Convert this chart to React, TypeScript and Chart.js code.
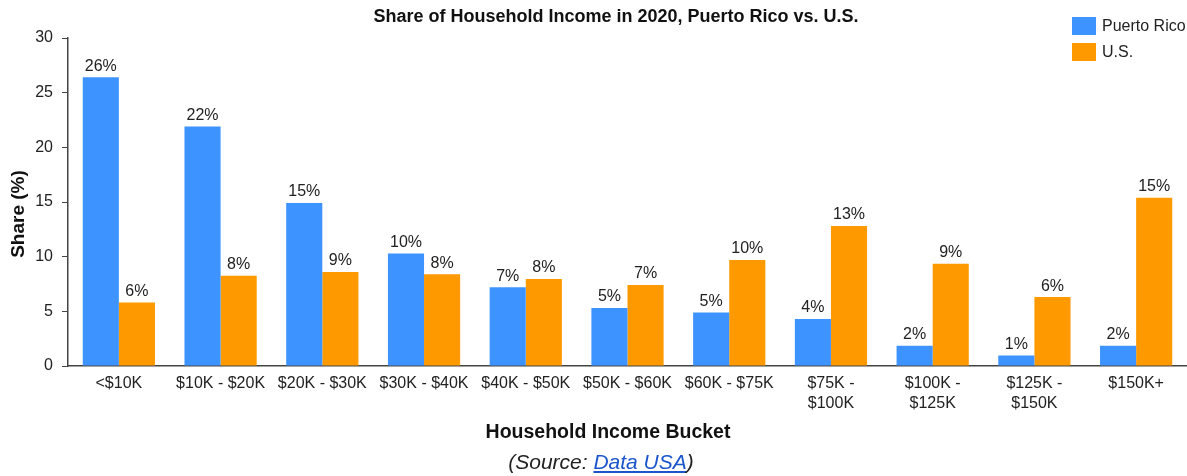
import React, { useEffect, useRef } from "react";
import { Chart, registerables } from "chart.js";

Chart.register(...registerables);

const categories: string[][] = [
  ["<$10K"],
  ["$10K - $20K"],
  ["$20K - $30K"],
  ["$30K - $40K"],
  ["$40K - $50K"],
  ["$50K - $60K"],
  ["$60K - $75K"],
  ["$75K -", "$100K"],
  ["$100K -", "$125K"],
  ["$125K -", "$150K"],
  ["$150K+"],
];

const puertoRico: number[] = [26.4, 21.9, 14.9, 10.3, 7.2, 5.3, 4.9, 4.3, 1.85, 0.95, 1.85];
const us: number[] = [5.8, 8.25, 8.6, 8.4, 7.95, 7.4, 9.7, 12.8, 9.35, 6.3, 15.4];

const yTicks: number[] = [0, 5, 10, 15, 20, 25, 30];

const BLUE = "#3d93ff";
const ORANGE = "#ff9900";
const FONT = "'Liberation Sans', Arial, sans-serif";

const decorPlugin = {
  id: "decor",
  afterDatasetsDraw(chart: any) {
    const ctx = chart.ctx;
    ctx.save();
    // data labels
    ctx.font = `16px ${FONT}`;
    ctx.fillStyle = "#222";
    ctx.textAlign = "center";
    ctx.textBaseline = "bottom";
    chart.data.datasets.forEach((ds: any, di: number) => {
      const meta = chart.getDatasetMeta(di);
      meta.data.forEach((bar: any, i: number) => {
        const v = ds.data[i];
        ctx.fillText(`${Math.round(v)}%`, bar.x, bar.y - 3);
      });
    });
    // title
    ctx.fillStyle = "#111";
    ctx.font = `bold 18px ${FONT}`;
    ctx.textBaseline = "middle";
    ctx.fillText("Share of Household Income in 2020, Puerto Rico vs. U.S.", 616, 17);
    // y axis title
    ctx.save();
    ctx.translate(19, 214);
    ctx.rotate(-Math.PI / 2);
    ctx.font = `bold 19px ${FONT}`;
    ctx.fillText("Share (%)", 0, 0);
    ctx.restore();
    // x axis title
    ctx.font = `bold 19.5px ${FONT}`;
    ctx.fillText("Household Income Bucket", 608, 433);
    // legend
    const items = [
      { label: "Puerto Rico", color: BLUE, y: 17 },
      { label: "U.S.", color: ORANGE, y: 43 },
    ];
    ctx.textAlign = "left";
    ctx.font = `16px ${FONT}`;
    items.forEach((it) => {
      ctx.fillStyle = it.color;
      ctx.fillRect(1072, it.y, 24, 18);
      ctx.fillStyle = "#222";
      ctx.fillText(it.label, 1102, it.y + 9.5);
    });
    ctx.restore();
  },
};

export default function App() {
  const ref = useRef<HTMLCanvasElement | null>(null);

  useEffect(() => {
    if (!ref.current) return;
    const chart = new Chart(ref.current, {
      type: "bar",
      data: {
        labels: categories,
        datasets: [
          { label: "Puerto Rico", data: puertoRico, backgroundColor: BLUE, categoryPercentage: 0.71, barPercentage: 1 },
          { label: "U.S.", data: us, backgroundColor: ORANGE, categoryPercentage: 0.71, barPercentage: 1 },
        ],
      },
      options: {
        responsive: false,
        animation: false,
        layout: { padding: { left: 0, top: 38, right: 0, bottom: 0 } },
        plugins: {
          legend: { display: false },
          title: { display: false },
          tooltip: { enabled: false },
        },
        scales: {
          x: {
            grid: { display: false, drawTicks: false },
            border: { display: true, color: "#444", width: 1.5 },
            ticks: {
              color: "#222",
              font: { family: FONT, size: 16, lineHeight: 1.25 },
              padding: 8,
              maxRotation: 0,
              autoSkip: false,
            },
            afterFit: (s: any) => {
              s.height = 110;
            },
          },
          y: {
            min: 0,
            max: 30,
            afterBuildTicks: (s: any) => {
              s.ticks = yTicks.map((v) => ({ value: v }));
            },
            grid: { drawOnChartArea: false, drawTicks: true, tickLength: 6, color: "#444" },
            border: { display: true, color: "#444", width: 1.5 },
            ticks: {
              color: "#222",
              font: { family: FONT, size: 16 },
              padding: 9,
            },
            afterFit: (s: any) => {
              s.width = 68;
            },
          },
        },
      },
      plugins: [decorPlugin],
    });
    return () => chart.destroy();
  }, []);

  return (
    <div style={{ position: "absolute", left: 0, top: 0, width: 1187, height: 476, background: "#fff" }}>
      <canvas ref={ref} width={1187} height={476} style={{ display: "block" }} />
      <div
        style={{
          position: "absolute",
          left: 301,
          width: 600,
          top: 448,
          textAlign: "center",
          fontFamily: FONT,
          fontStyle: "italic",
          fontSize: 21,
          color: "#222",
          lineHeight: "28px",
        }}
      >
        (Source: <a href="#" style={{ color: "#1a55cc", textDecoration: "underline" }}>Data USA</a>)
      </div>
    </div>
  );
}
